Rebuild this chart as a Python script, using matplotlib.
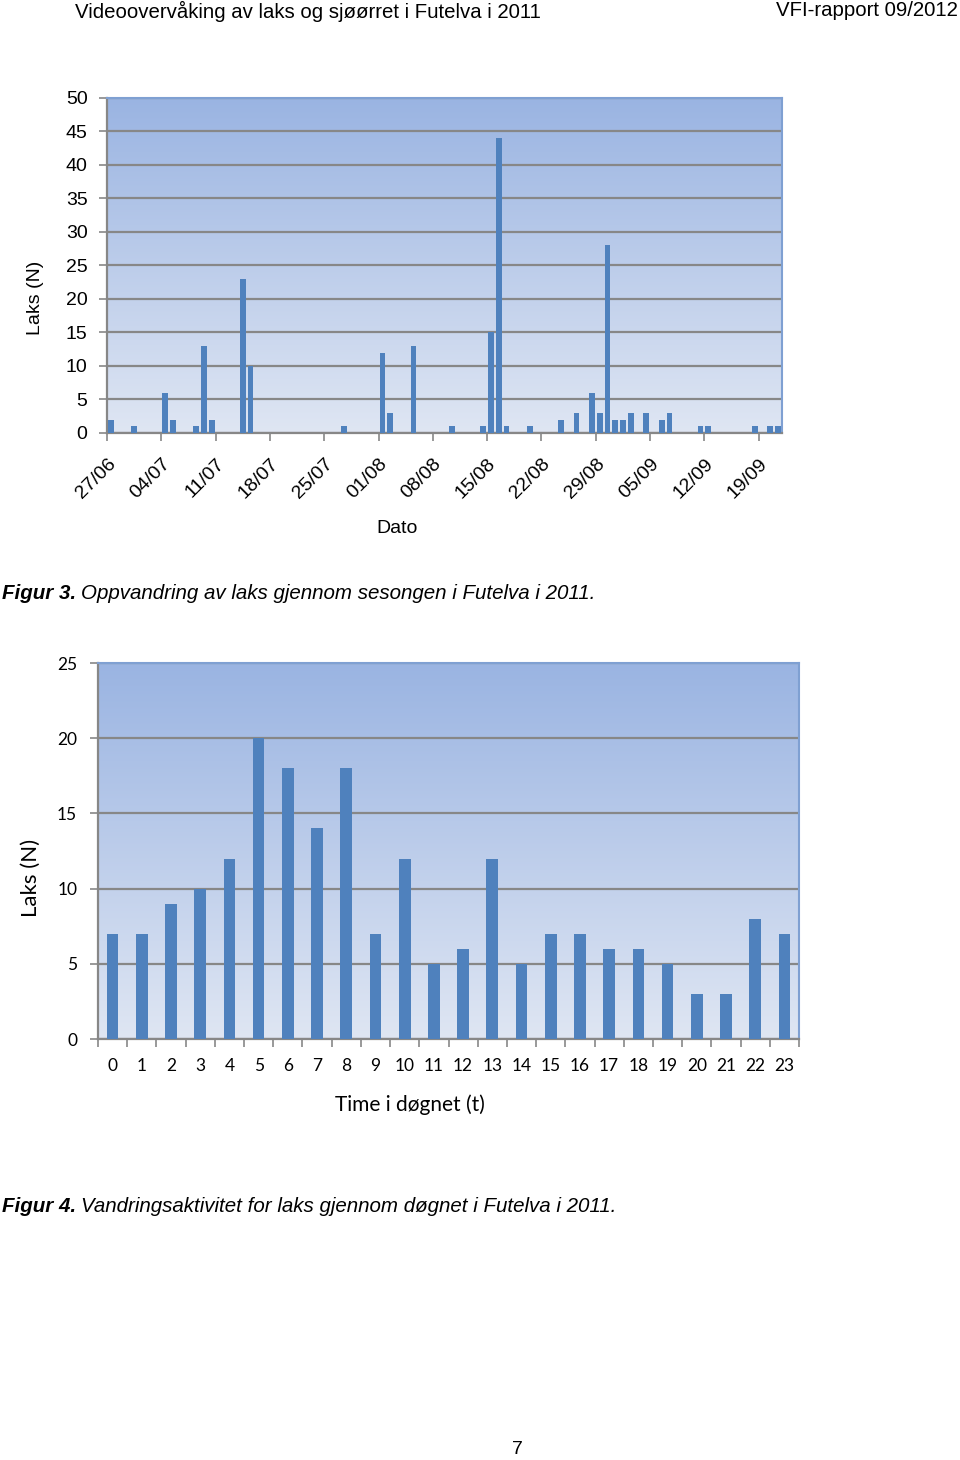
import numpy as np
import pandas as pd
import matplotlib
matplotlib.use("Agg")
import matplotlib.pyplot as plt

# --- data: fig 3, daily counts (only days with fish) ---
start_date = "2011-06-27"
end_date = "2011-09-21"
fish_dates = ["2011-06-27", "2011-06-30", "2011-07-04", "2011-07-05", "2011-07-08",
              "2011-07-09", "2011-07-10", "2011-07-14", "2011-07-15", "2011-07-27",
              "2011-08-01", "2011-08-02", "2011-08-05", "2011-08-10", "2011-08-14",
              "2011-08-15", "2011-08-16", "2011-08-17", "2011-08-20", "2011-08-24",
              "2011-08-26", "2011-08-28", "2011-08-29", "2011-08-30", "2011-08-31",
              "2011-09-01", "2011-09-02", "2011-09-04", "2011-09-06", "2011-09-07",
              "2011-09-11", "2011-09-12", "2011-09-18", "2011-09-20", "2011-09-21"]
fish_counts = [2, 1, 6, 2, 1, 13, 2, 23, 10, 1,
               12, 3, 13, 1, 1, 15, 44, 1, 1, 2,
               3, 6, 3, 28, 2, 2, 3, 3, 2, 3,
               1, 1, 1, 1, 1]
date_ticks = ["27/06", "04/07", "11/07", "18/07", "25/07", "01/08", "08/08",
              "15/08", "22/08", "29/08", "05/09", "12/09", "19/09"]

# --- data: fig 4, counts per hour ---
hours = [str(h) for h in range(24)]
hour_counts = [7, 7, 9, 10, 12, 20, 18, 14, 18, 7, 12, 5, 6, 12, 5, 7, 7, 6, 6, 5, 3, 3, 8, 7]

W, H = 960, 1460
fig = plt.figure(figsize=(W / 100, H / 100), dpi=100)

BAR = "#4f81bd"
GRID = "#878787"
EDGE = "#7fa0d2"
grad = np.linspace(0, 1, 256).reshape(-1, 1)
cmap = matplotlib.colors.LinearSegmentedColormap.from_list("bg", ["#9ab4e2", "#dfe6f3"])


def box(l, t, r, b):
    return [l / W, 1 - b / H, (r - l) / W, (b - t) / H]


def style(ax):
    # row 0 (dark) at the top of the plot area
    ax.imshow(grad, extent=[0, 1, 0, 1], transform=ax.transAxes, cmap=cmap,
              aspect="auto", zorder=0)
    ax.set_axisbelow(True)
    ax.yaxis.grid(True, color=GRID, linewidth=1.6, zorder=1)
    for s in ["top", "right"]:
        ax.spines[s].set_color(EDGE)
        ax.spines[s].set_linewidth(1.5)
    for s in ["left", "bottom"]:
        ax.spines[s].set_color(GRID)
        ax.spines[s].set_linewidth(1.6)
    ax.tick_params(color=GRID, width=1.2, length=6)


# ---------------- Figur 3 ----------------
days = pd.date_range(start_date, end_date, freq="D")
idx = [(pd.Timestamp(d) - days[0]).days for d in fish_dates]

ax1 = fig.add_axes(box(107, 98, 782, 433))
style(ax1)
ax1.bar(np.array(idx) + 0.5, fish_counts, width=0.74, color=BAR, zorder=3)
ax1.set_xlim(0, len(days))
ax1.set_ylim(0, 50)
ax1.set_yticks(range(0, 51, 5))
ax1.set_xticks(range(0, 7 * len(date_ticks), 7))
ax1.set_xticklabels(date_ticks, rotation=45, ha="right", va="top",
                    rotation_mode="anchor", family="Liberation Sans", fontsize=14)
for lab in ax1.get_yticklabels():
    lab.set_family("Liberation Sans")
    lab.set_fontsize(14)
ax1.tick_params(axis="x", pad=10)
ax1.tick_params(axis="y", pad=8)

fig.text(35 / W, 1 - 298 / H, "Laks (N)", rotation=90, ha="center", va="center",
         family="Liberation Sans", fontsize=14)
fig.text(397 / W, 1 - 528 / H, "Dato", ha="center", va="center",
         family="Liberation Sans", fontsize=14)

# ---------------- Figur 4 ----------------
ax2 = fig.add_axes(box(98, 663, 799, 1039))
style(ax2)
ax2.bar(range(24), hour_counts, width=0.4, color=BAR, zorder=3)
ax2.set_xlim(-0.5, 23.5)
ax2.set_ylim(0, 25)
ax2.set_yticks(range(0, 26, 5))
ax2.set_xticks(np.arange(-0.5, 24, 1), minor=False)
ax2.set_xticklabels([])
ax2.set_xticks(range(24), minor=True)
ax2.set_xticklabels(hours, minor=True, family="Lato", fontsize=12.5)
ax2.tick_params(axis="x", which="minor", length=0, pad=14)
for lab in ax2.get_yticklabels():
    lab.set_family("Lato")
    lab.set_fontsize(12.5)
ax2.tick_params(axis="y", pad=9)

fig.text(31 / W, 1 - 878 / H, "Laks (N)", rotation=90, ha="center", va="center",
         family="Lato", fontsize=16)
fig.text(410 / W, 1 - 1105 / H, "Time i døgnet (t)", ha="center", va="center",
         family="Lato", fontsize=15)

# ---------------- page text ----------------
narrow = ["Liberation Sans Narrow", "Liberation Sans"]
fig.text(75 / W, 1 - 11 / H, "Videoovervåking av laks og sjøørret i Futelva i 2011",
         ha="left", va="center", family=narrow, fontsize=14.7)
fig.text(958 / W, 1 - 11 / H, "VFI-rapport 09/2012", ha="right", va="center",
         family=narrow, fontsize=14.7)

renderer = fig.canvas.get_renderer()


def caption(y, bold, rest):
    t = fig.text(2 / W, 1 - y / H, bold, ha="left", va="center", family=narrow,
                 fontsize=14.8, style="italic", weight="bold")
    bb = t.get_window_extent(renderer)
    fig.text((bb.x1 + 5) / W, 1 - y / H, rest, ha="left", va="center", family=narrow,
             fontsize=14.8, style="italic")


caption(594, "Figur 3.", "Oppvandring av laks gjennom sesongen i Futelva i 2011.")
caption(1206, "Figur 4.", "Vandringsaktivitet for laks gjennom døgnet i Futelva i 2011.")

fig.text(517 / W, 1 - 1450 / H, "7", ha="center", va="center",
         family="Liberation Sans", fontsize=14)

fig.savefig("out.png", dpi=100)
